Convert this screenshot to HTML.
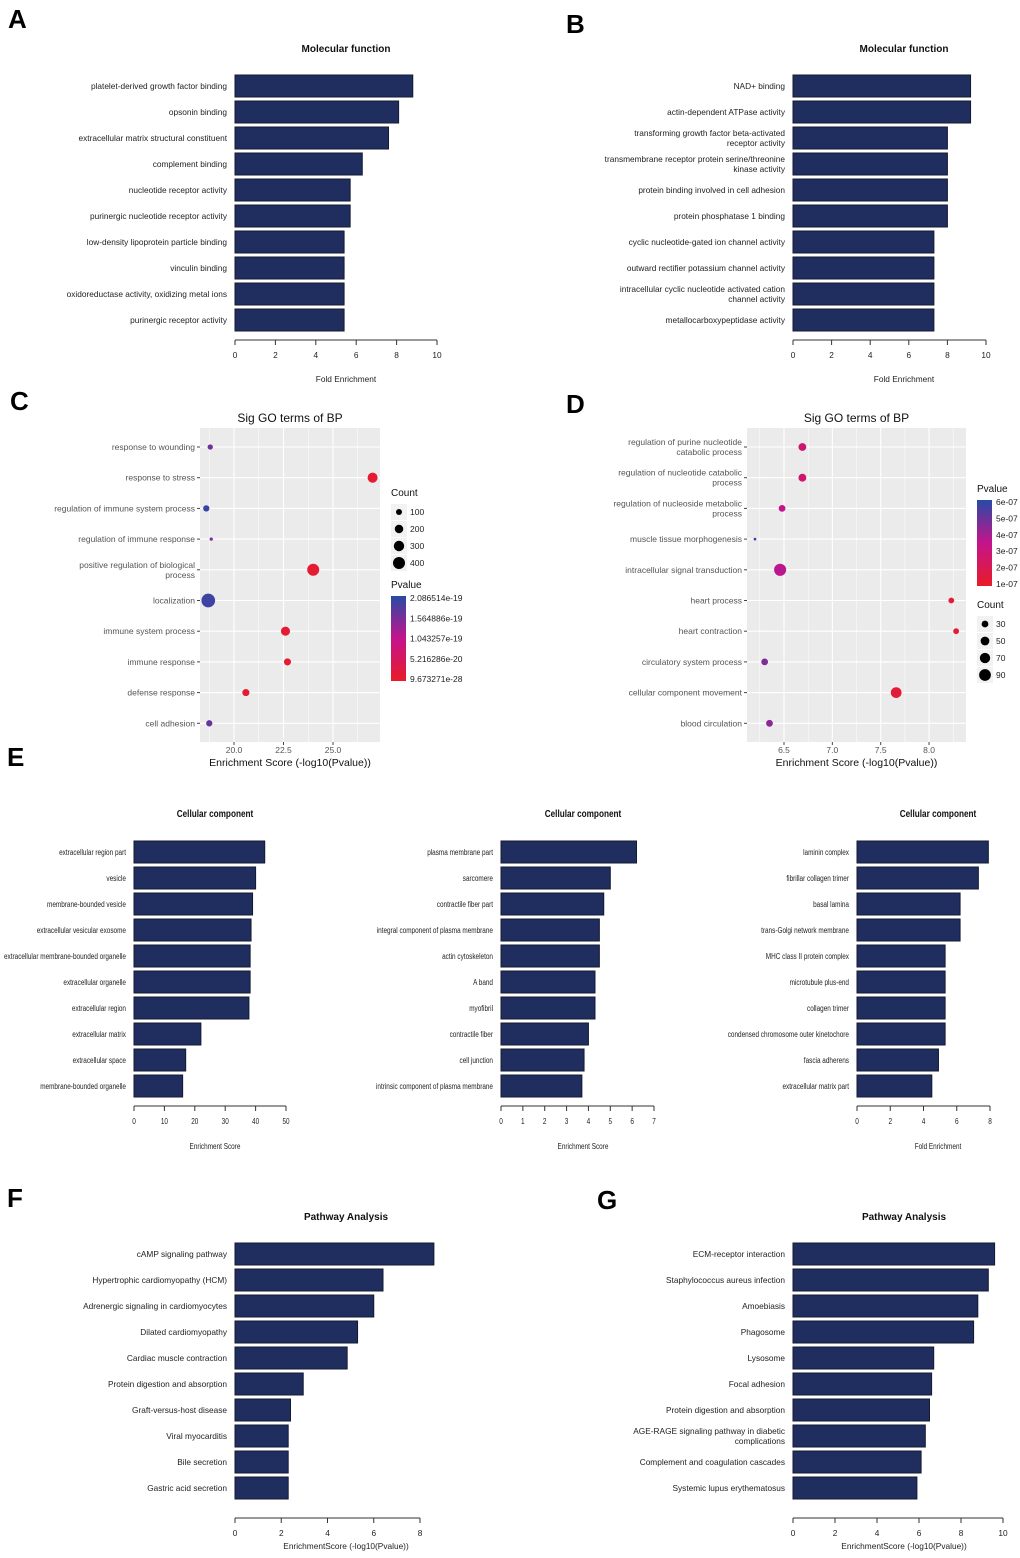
<!DOCTYPE html>
<html><head><meta charset="utf-8"><style>
html,body{margin:0;padding:0;background:#fff;}
svg{display:block;font-family:"Liberation Sans",sans-serif;}
.lbl{font-size:8.3px;fill:#222;}
.small{font-size:8px;fill:#222;}
.ttl{font-size:10px;font-weight:bold;fill:#111;}
.pl{font-size:26px;font-weight:bold;fill:#000;}
.gl{font-size:8.5px;fill:#555;}
</style></head><body>
<svg id="fig" width="1020" height="1558" viewBox="0 0 1020 1558">
<text class="pl" x="8" y="28">A</text>
<text class="pl" x="566" y="33">B</text>
<text class="pl" x="10" y="410">C</text>
<text class="pl" x="566" y="413">D</text>
<text class="pl" x="7" y="766">E</text>
<text class="pl" x="7" y="1207">F</text>
<text class="pl" x="597" y="1209">G</text>
</svg>
<script>
// ---- data ----
const catsA=["platelet-derived growth factor binding","opsonin binding","extracellular matrix structural constituent","complement binding","nucleotide receptor activity","purinergic nucleotide receptor activity","low-density lipoprotein particle binding","vinculin binding","oxidoreductase activity, oxidizing metal ions","purinergic receptor activity"];
const valsA=[8.8,8.1,7.6,6.3,5.7,5.7,5.4,5.4,5.4,5.4];
const catsB=["NAD+ binding","actin-dependent ATPase activity","transforming growth factor beta-activated|receptor activity","transmembrane receptor protein serine/threonine|kinase activity","protein binding involved in cell adhesion","protein phosphatase 1 binding","cyclic nucleotide-gated ion channel activity","outward rectifier potassium channel activity","intracellular cyclic nucleotide activated cation|channel activity","metallocarboxypeptidase activity"];
const valsB=[9.2,9.2,8.0,8.0,8.0,8.0,7.3,7.3,7.3,7.3];
const ticks10=[0,2,4,6,8,10];
const catsC=["response to wounding","response to stress","regulation of immune system process","regulation of immune response","positive regulation of biological|process","localization","immune system process","immune response","defense response","cell adhesion"];
const scoreC=[18.8,27.0,18.6,18.85,24.0,18.7,22.6,22.7,20.6,18.75];
const countC=[80,280,110,30,400,520,230,140,140,110];
const pvalC=[1.6,0.1,2.0,1.5,0.1,1.95,0.1,0.1,0.1,1.7]; // e-19
const ticksC=[20.0,22.5,25.0];
const countLegC=[100,200,300,400];
const pLegC=["2.086514e-19","1.564886e-19","1.043257e-19","5.216286e-20","9.673271e-28"];
const catsD=["regulation of purine nucleotide|catabolic process","regulation of nucleotide catabolic|process","regulation of nucleoside metabolic|process","muscle tissue morphogenesis","intracellular signal transduction","heart process","heart contraction","circulatory system process","cellular component movement","blood circulation"];
const scoreD=[6.69,6.69,6.48,6.20,6.46,8.23,8.28,6.30,7.66,6.35];
const countD=[40,40,30,5,95,22,22,30,75,30];
const pvalD=[2.2,2.2,3.0,5.9,3.3,0.4,0.4,4.5,0.5,4.2]; // e-07
const ticksD=[6.5,7.0,7.5,8.0];
const countLegD=[30,50,70,90];
const pLegD=["6e-07","5e-07","4e-07","3e-07","2e-07","1e-07"];
const catsE1=["extracellular region part","vesicle","membrane-bounded vesicle","extracellular vesicular exosome","extracellular membrane-bounded organelle","extracellular organelle","extracellular region","extracellular matrix","extracellular space","membrane-bounded organelle"];
const valsE1=[43,40,39,38.5,38.2,38.2,37.8,22,17,16];
const ticksE1=[0,10,20,30,40,50];
const catsE2=["plasma membrane part","sarcomere","contractile fiber part","integral component of plasma membrane","actin cytoskeleton","A band","myofibril","contractile fiber","cell junction","intrinsic component of plasma membrane"];
const valsE2=[6.2,5.0,4.7,4.5,4.5,4.3,4.3,4.0,3.8,3.7];
const ticksE2=[0,1,2,3,4,5,6,7];
const catsE3=["laminin complex","fibrillar collagen trimer","basal lamina","trans-Golgi network membrane","MHC class II protein complex","microtubule plus-end","collagen trimer","condensed chromosome outer kinetochore","fascia adherens","extracellular matrix part"];
const valsE3=[7.9,7.3,6.2,6.2,5.3,5.3,5.3,5.3,4.9,4.5];
const ticks8=[0,2,4,6,8];
const catsF=["cAMP signaling pathway","Hypertrophic cardiomyopathy (HCM)","Adrenergic signaling in cardiomyocytes","Dilated cardiomyopathy","Cardiac muscle contraction","Protein digestion and absorption","Graft-versus-host disease","Viral myocarditis","Bile secretion","Gastric acid secretion"];
const valsF=[8.6,6.4,6.0,5.3,4.85,2.95,2.4,2.3,2.3,2.3];
const catsG=["ECM-receptor interaction","Staphylococcus aureus infection","Amoebiasis","Phagosome","Lysosome","Focal adhesion","Protein digestion and absorption","AGE-RAGE signaling pathway in diabetic|complications","Complement and coagulation cascades","Systemic lupus erythematosus"];
const valsG=[9.6,9.3,8.8,8.6,6.7,6.6,6.5,6.3,6.1,5.9];

const NS="http://www.w3.org/2000/svg";
const svg=document.getElementById('fig');
function mk(tag,attrs,parent){const e=document.createElementNS(NS,tag);for(const k in attrs)e.setAttribute(k,attrs[k]);(parent||svg).appendChild(e);return e;}
function txt(str,x,y,cls,anchor,parent){const t=mk('text',{x:x,y:y,class:cls,'text-anchor':anchor||'start'},parent);t.textContent=str;
  if(cls==='small'){const w=t.getComputedTextLength();if(w>0){t.setAttribute('textLength',(w*0.8).toFixed(1));t.setAttribute('lengthAdjust','spacingAndGlyphs');}}
  return t;}
function multiline(str,x,y,cls,anchor,g,lh){const parts=str.split('|');const y0=y-(parts.length-1)*lh/2;parts.forEach((p,i)=>{const t=txt(p,x,y0+i*lh+3,cls,anchor,g);});}

function barChart(o){
  const g=mk('g',{});
  
  
  const sx=v=>o.x0+(v-o.ticks[0])*(o.x1-o.x0)/(o.ticks[o.ticks.length-1]-o.ticks[0]);
  const t=txt(o.title,o.tx,o.ty,'ttl','middle',g);
  
  if(o.cls==='small'){t.setAttribute('style','font-size:10px');const w=t.getComputedTextLength();t.setAttribute('textLength',(w*0.82).toFixed(1));t.setAttribute('lengthAdjust','spacingAndGlyphs');}
  o.cats.forEach((c,i)=>{
    const cy=o.y0+i*26;
    const r=mk('rect',{x:sx(0),y:cy-11,width:sx(o.vals[i])-sx(0),height:22,fill:'#1f2d5f',stroke:'#141a30','stroke-width':1},g);
    
    
    multiline(c,o.x0-8,cy,o.cls,'end',g,10);
  });
  const ay=o.y0+9*26+20+(o.aoff||0);
  const ax=mk('line',{x1:sx(o.ticks[0]),x2:sx(o.ticks[o.ticks.length-1]),y1:ay,y2:ay,stroke:'#333','stroke-width':1},g);
  
  o.ticks.forEach(v=>{
    mk('line',{x1:sx(v),x2:sx(v),y1:ay,y2:ay+5,stroke:'#333'},g);
    const tl=txt(String(v),sx(v),ay+18,o.cls,'middle',g);
    
  });
  const xl=txt(o.xlabel,o.tx,ay+o.xly,o.cls,'middle',g);
  
}
function lerp(a,b,t){return a.map((v,i)=>Math.round(v+(b[i]-v)*t));}
function pcol(f){const red=[232,28,40],mag=[196,20,140],blue=[40,74,166];if(f<0.5)return 'rgb('+lerp(red,mag,f*2)+')';return 'rgb('+lerp(mag,blue,(f-0.5)*2)+')';}

function dotChart(o){
  const g=mk('g',{});
  
  
  const sx=v=>o.tx0+(v-o.ticks[0])*o.k;
  const bg=mk('rect',{x:o.px0,y:428,width:o.px1-o.px0,height:314,fill:'#ebebeb'},g);
  
  const tk=o.ticks;
  const step=tk[1]-tk[0];
  for(let j=-4;j<=2*tk.length+4;j++){const v=tk[0]+j*step/2;const x=sx(v);if(x>o.px0&&x<o.px1)mk('line',{x1:x,x2:x,y1:428,y2:742,stroke:'#fff','stroke-width':j%2===0?1.1:0.5},g);}
  o.cats.forEach((c,i)=>{const y=447+i*30.7;mk('line',{x1:o.px0,x2:o.px1,y1:y,y2:y,stroke:'#fff','stroke-width':1.1},g);
    mk('line',{x1:o.px0-3,x2:o.px0,y1:y,y2:y,stroke:'#444'},g);
    multiline(c,o.px0-5,y,'gl','end',g,10);});
  o.cats.forEach((c,i)=>{const y=447+i*30.7;
    const d=mk('circle',{cx:sx(o.score[i]),cy:y,r:o.rk*Math.sqrt(o.count[i]),fill:pcol(o.pval[i]/o.pmax)},g);
    });
  tk.forEach(v=>{mk('line',{x1:sx(v),x2:sx(v),y1:742,y2:745,stroke:'#444'},g);
    const tl=txt(v.toFixed(1),sx(v),753,'gl','middle',g);});
  const tt=txt('Sig GO terms of BP',(o.px0+o.px1)/2,422,'', 'middle',g);tt.setAttribute('style','font-size:12px;fill:#111');
  
  const xl=txt('Enrichment Score (-log10(Pvalue))',(o.px0+o.px1)/2,766,'','middle',g);xl.setAttribute('style','font-size:10.5px;fill:#111');
  
}

barChart({name:'chart-a',title:'Molecular function',tx:346,ty:52,x0:235,x1:437,y0:86,cats:catsA,vals:valsA,ticks:ticks10,xlabel:'Fold Enrichment',cls:'lbl',xly:42});
barChart({name:'chart-b',title:'Molecular function',tx:904,ty:52,x0:793,x1:986,y0:86,cats:catsB,vals:valsB,ticks:ticks10,xlabel:'Fold Enrichment',cls:'lbl',xly:42});
barChart({name:'chart-e1',title:'Cellular component',tx:215,ty:817,x0:134,x1:286,y0:852,cats:catsE1,vals:valsE1,ticks:ticksE1,xlabel:'Enrichment Score',cls:'small',xly:43});
barChart({name:'chart-e2',title:'Cellular component',tx:583,ty:817,x0:501,x1:654,y0:852,cats:catsE2,vals:valsE2,ticks:ticksE2,xlabel:'Enrichment Score',cls:'small',xly:43});
barChart({name:'chart-e3',title:'Cellular component',tx:938,ty:817,x0:857,x1:990,y0:852,cats:catsE3,vals:valsE3,ticks:ticks8,xlabel:'Fold Enrichment',cls:'small',xly:43});
barChart({name:'chart-f',title:'Pathway Analysis',tx:346,ty:1220,x0:235,x1:420,y0:1254,cats:catsF,vals:valsF,ticks:ticks8,xlabel:'EnrichmentScore (-log10(Pvalue))',cls:'lbl',xly:31,aoff:10});
barChart({name:'chart-g',title:'Pathway Analysis',tx:904,ty:1220,x0:793,x1:1003,y0:1254,cats:catsG,vals:valsG,ticks:ticks10,xlabel:'EnrichmentScore (-log10(Pvalue))',cls:'lbl',xly:31,aoff:10});

dotChart({name:'chart-c',px0:200,px1:380,tx0:234,k:19.8,ticks:ticksC,cats:catsC,score:scoreC,count:countC,pval:pvalC,pmax:2.09,rk:0.3});
dotChart({name:'chart-d',px0:747,px1:966,tx0:784,k:96.7,ticks:ticksD,cats:catsD,score:scoreD,count:countD,pval:pvalD,pmax:6.2,rk:0.62});

// legends
function legCount(x,y,vals,rk,title){const g=mk('g',{});
  const t=txt(title,x,y,'','start',g);t.setAttribute('style','font-size:10px;fill:#111');
  vals.forEach((v,i)=>{const cy=y+16+i*17;mk('rect',{x:x,y:cy-8,width:16,height:16,fill:'#f2f2f2'},g);mk('circle',{cx:x+8,cy:cy,r:rk*Math.sqrt(v),fill:'#000'},g);
    const l=txt(String(v),x+19,cy+3,'','start',g);l.setAttribute('style','font-size:8.5px;fill:#222');});}
function legP(x,y,h,labs,title){const g=mk('g',{});
  const t=txt(title,x,y-8,'','start',g);t.setAttribute('style','font-size:10px;fill:#111');
  const id='grad'+x;const d=mk('defs',{},g);const lg=mk('linearGradient',{id:id,x1:0,y1:0,x2:0,y2:1},d);
  mk('stop',{offset:'0','stop-color':pcol(1)},lg);mk('stop',{offset:'0.5','stop-color':pcol(0.5)},lg);mk('stop',{offset:'1','stop-color':pcol(0)},lg);
  mk('rect',{x:x,y:y,width:15,height:h,fill:'url(#'+id+')'},g);
  labs.forEach((s,i)=>{const ly=y+2+i*(h-4)/(labs.length-1);const l=txt(s,x+19,ly+3,'','start',g);l.setAttribute('style','font-size:8.5px;fill:#222');});}
legCount(391,496,countLegC,0.3,'Count');
legP(391,596,85,pLegC,'Pvalue');
legP(977,500,86,pLegD,'Pvalue');
legCount(977,608,countLegD,0.62,'Count');
</script>
</body></html>
